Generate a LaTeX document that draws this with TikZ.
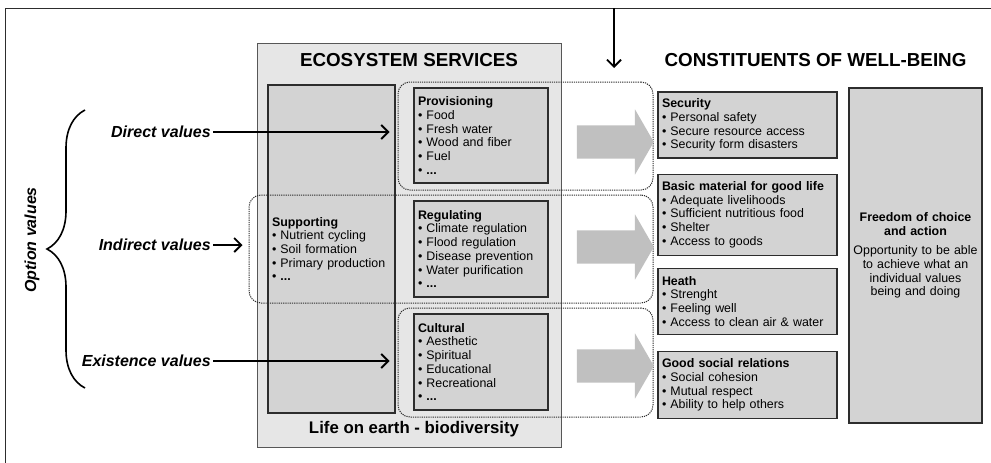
\documentclass[tikz,border=0pt]{standalone}
\usepackage{fontspec}
\setmainfont{Liberation Sans}
\usepackage{xcolor}
\definecolor{boxgray}{RGB}{211, 211, 211}
\definecolor{esgray}{RGB}{230, 230, 230}
\definecolor{flowgray}{RGB}{192, 192, 192}
\definecolor{lined}{RGB}{45, 45, 45}
\usepackage{tikz}
\usetikzlibrary{
    shapes.arrows,
    arrows.meta,
    positioning,
    decorations.pathreplacing
}
\tikzstyle{box} = [
    rectangle, draw=lined,
    line width=1.2pt,
    fill=boxgray,
    align=left,
    inner xsep=4pt,
    font=\fontsize{12.4}{13.7}\selectfont
]
\tikzstyle{esbox} = [
    rectangle,
    draw=lined!80,
    line width=0.9pt,
    fill=esgray,
    minimum width=304pt,
    minimum height=404pt
]
\tikzstyle{group} = [
    rectangle,
    draw=lined,
    dash pattern=on 1.2pt off 1pt,
    line width=1pt,
    rounded corners=12pt
]
\tikzstyle{flow} = [
    single arrow,
    fill=flowgray,
    text height=16.5pt,
    text depth=16.5pt,
    minimum height=77pt,
    minimum width=65pt,
    single arrow head extend=16pt,
    single arrow tip angle=120,
    inner sep=0pt
]
\tikzstyle{arrow} = [
    line width=1.8pt,
    -{Straight Barb[length=7pt,width=14pt]}
]
\tikzstyle{valuetext} = [
    font=\fontsize{16}{18}\selectfont\bfseries\itshape,
    inner sep=2pt
]
\tikzstyle{heading} = [
    font=\fontsize{18.8}{22}\selectfont\bfseries
]

\begin{document}
\begin{tikzpicture}[x=1pt, y=-1pt]

\useasboundingbox (0,0) rectangle (991,463);

% frame
\draw [lined, line width=1pt] (5,463) -- (5,8) -- (991,8);
\coordinate (topstart) at (614,8);
\coordinate (topend) at (614,68);
\draw [arrow] (topstart) -- (topend);

% ecosystem services
\node (es) [esbox] at (409,245) {};
\node (estitle) [heading] at (409,60) {ECOSYSTEM SERVICES};
\node (esfoot) [font=\fontsize{16.8}{20}\selectfont\bfseries] at (414,429)
    {Life on earth - biodiversity};

\node (supp) [box, text width=119pt, minimum height=328pt] at (331.5,249)
    {\textbf{Supporting}\\\textbullet\ Nutrient cycling\\\textbullet\ Soil formation\\
     \textbullet\ Primary production\\\textbullet\ \textbf{...}};
\node (prov) [box, text width=126pt, minimum height=95pt] at (481,135.5)
    {\textbf{Provisioning}\\\textbullet\ Food\\\textbullet\ Fresh water\\
     \textbullet\ Wood and fiber\\\textbullet\ Fuel\\\textbullet\ \textbf{...}};
\node (regu) [box, text width=126pt, minimum height=96pt] at (481,249)
    {\textbf{Regulating}\\\textbullet\ Climate regulation\\\textbullet\ Flood regulation\\
     \textbullet\ Disease prevention\\\textbullet\ Water purification\\\textbullet\ \textbf{...}};
\node (cult) [box, text width=126pt, minimum height=96pt] at (481,362)
    {\textbf{Cultural}\\\textbullet\ Aesthetic\\\textbullet\ Spiritual\\
     \textbullet\ Educational\\\textbullet\ Recreational\\\textbullet\ \textbf{...}};

% constituents of well-being
\node (cwtitle) [heading] at (815.5,60) {CONSTITUENTS OF WELL-BEING};

\node (secu) [box, text width=171pt, minimum height=66pt] at (747.5,125)
    {\textbf{Security}\\\textbullet\ Personal safety\\\textbullet\ Secure resource access\\
     \textbullet\ Security form disasters};
\node (basic) [box, text width=171pt, minimum height=81pt, below=15pt of secu]
    {\textbf{Basic material for good life}\\\textbullet\ Adequate livelihoods\\
     \textbullet\ Sufficient nutritious food\\\textbullet\ Shelter\\\textbullet\ Access to goods};
\node (heath) [box, text width=171pt, minimum height=66pt, below=12pt of basic]
    {\textbf{Heath}\\\textbullet\ Strenght\\\textbullet\ Feeling well\\
     \textbullet\ Access to clean air \& water};
\node (social) [box, text width=171pt, minimum height=67pt, below=16pt of heath]
    {\textbf{Good social relations}\\\textbullet\ Social cohesion\\\textbullet\ Mutual respect\\
     \textbullet\ Ability to help others};

\node (free) [box, align=center, text width=125pt, minimum height=335pt] at (915.5,255.5)
    {\textbf{Freedom of choice}\\\textbf{and action}\\[6pt]Opportunity to be able\\
     to achieve what an\\individual values\\being and doing\\[10pt]};

% dotted groups
\node (provgrp) [group, minimum width=255pt, minimum height=108pt] at (525.5,136) {};
\node (regugrp) [group, minimum width=404pt, minimum height=108pt] at (451,249) {};
\node (cultgrp) [group, minimum width=255pt, minimum height=109pt] at (525.5,362.5) {};

% flows
\node (flow1) [flow] at (610.5,142) {};
\node (flow2) [flow] at (610.5,247) {};
\node (flow3) [flow] at (610.5,366) {};

% values
\node (direct) [valuetext, anchor=east] at (213,132) {Direct values};
\node (indirect) [valuetext, anchor=east] at (213,245) {Indirect values};
\node (exist) [valuetext, anchor=east] at (213,361) {Existence values};
\node (option) [valuetext, rotate=90] at (32,240) {Option values};

\draw [arrow, shorten >=8pt] (direct) -- (direct -| provgrp.west);
\draw [arrow, shorten >=6pt] (indirect) -- (indirect -| regugrp.west);
\draw [arrow, shorten >=8pt] (exist) -- (exist -| cultgrp.west);

% brace
\coordinate (bracebot) at (85,388);
\coordinate (bracetop) at (85,110);
\draw [line width=1.6pt, decorate, decoration={brace, amplitude=38pt}]
    (bracebot) -- (bracetop);

\end{tikzpicture}
\end{document}
